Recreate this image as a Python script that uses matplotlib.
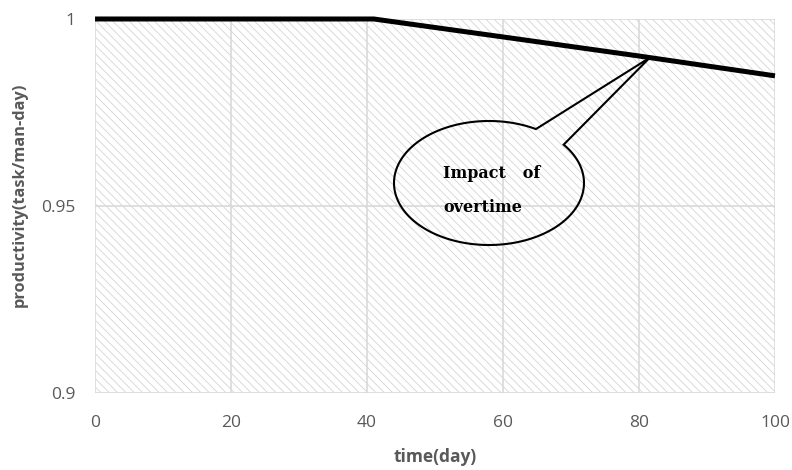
import numpy as np
import matplotlib
matplotlib.use("Agg")
import matplotlib.pyplot as plt
from matplotlib.patches import Rectangle
from matplotlib.path import Path
from matplotlib.patches import PathPatch

# productivity over the project timeline
time_days = [0, 20, 41, 60, 80, 100]
productivity = [1.0, 1.0, 1.0, 0.9952, 0.9901, 0.9848]

x_ticks = [0, 20, 40, 60, 80, 100]
y_ticks = [0.9, 0.95, 1.0]
y_tick_labels = ["0.9", "0.95", "1"]

GRAY = "#595959"
GRID = "#d9d9d9"

plt.rcParams["font.family"] = ["Open Sans", "DejaVu Sans"]
plt.rcParams["hatch.linewidth"] = 0.6
plt.rcParams["hatch.color"] = "#d4d4d4"

fig = plt.figure(figsize=(7.92, 4.70), dpi=100)
ax = fig.add_axes([0.12, 0.1638, 0.8585, 0.7958])

ax.set_xlim(0, 100)
ax.set_ylim(0.9, 1.0)

# hatched plot area
ax.add_patch(Rectangle((0, 0), 1, 1, transform=ax.transAxes, facecolor="white",
                       edgecolor="#d4d4d4", hatch="\\\\\\\\", lw=0, zorder=0))

ax.set_xticks(x_ticks)
ax.set_yticks(y_ticks)
ax.set_yticklabels(y_tick_labels)
ax.grid(True, color=GRID, lw=1.2, zorder=1)
ax.set_axisbelow(True)
for s in ax.spines.values():
    s.set_visible(False)
ax.tick_params(length=0, colors=GRAY, labelsize=12.5)
ax.tick_params(axis="x", pad=16)
ax.tick_params(axis="y", pad=14)

ax.plot(time_days, productivity, color="black", lw=3.6, solid_capstyle="butt",
        zorder=5, clip_on=False)

ax.set_xlabel("time(day)", color=GRAY, fontweight="bold", fontsize=12.5)
ax.set_ylabel("productivity(task/man-day)", color=GRAY, fontweight="bold",
              fontsize=11.8)
ax.xaxis.set_label_coords(0.5, -0.147)
ax.yaxis.set_label_coords(-0.0985, 0.529)

# speech-bubble callout pointing at the declining segment
px_x = 100 / 680.0
px_y = 0.1 / 374.0
cx, cy = 57.94, 0.95615
a, b = 95 * px_x, 62 * px_y
t0, t1 = np.radians(60.4), np.radians(38.2) + 2 * np.pi
t = np.linspace(t0, t1, 200)
ex = cx + a * np.cos(t)
ey = cy + b * np.sin(t)
tip_x = 81.6
tip_y = np.interp(tip_x, time_days, productivity)
verts = list(zip(ex, ey)) + [(tip_x, tip_y), (ex[0], ey[0])]
codes = [Path.MOVETO] + [Path.LINETO] * (len(verts) - 2) + [Path.CLOSEPOLY]
ax.add_patch(PathPatch(Path(verts, codes), facecolor="none", edgecolor="black",
                       lw=1.5, zorder=6, joinstyle="miter"))

ax.text(51.2, 0.9588, "Impact   of", family="DejaVu Serif", fontweight="bold",
        fontsize=11.5, va="center", ha="left", zorder=7)
ax.text(51.2, 0.9497, "overtime", family="DejaVu Serif", fontweight="bold",
        fontsize=11.5, va="center", ha="left", zorder=7)

fig.savefig("out.png", dpi=100)
